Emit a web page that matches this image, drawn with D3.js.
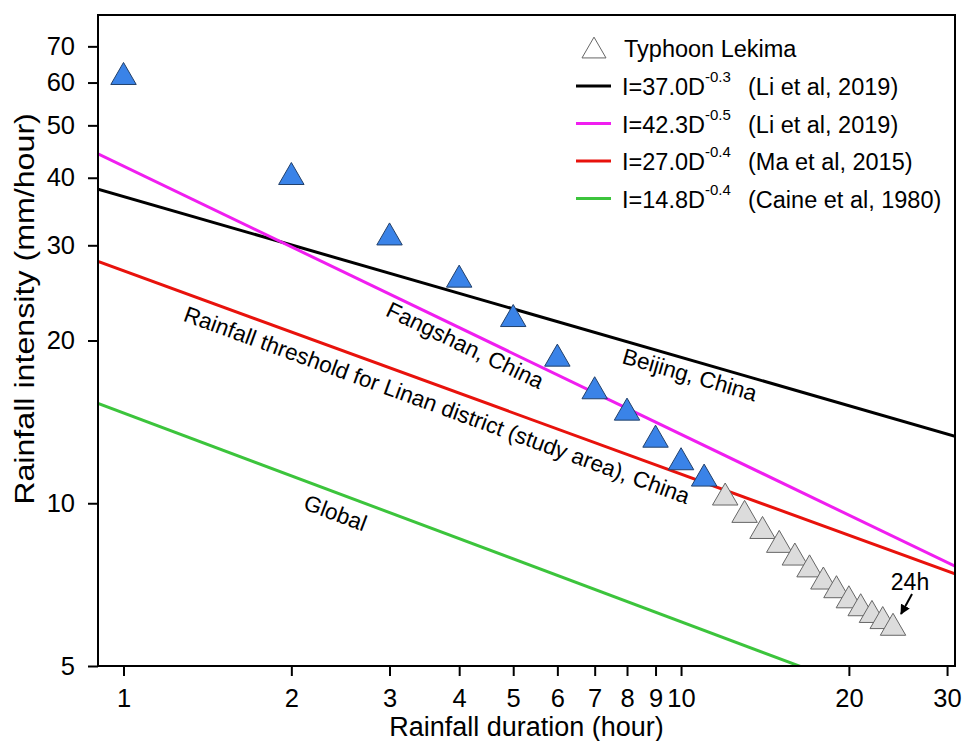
<!DOCTYPE html>
<html lang="en-US">
<head>
    <meta charset="utf-8">
    <title>Rainfall intensity-duration thresholds</title>
    <script src="https://d3js.org/d3.v7.min.js"></script>
    <style>
        html,
        body {
            margin: 0;
            padding: 0;
            background: #fff;
        }

        svg text {
            font-family: "Liberation Sans", Arial, sans-serif;
            fill: #000;
        }
    </style>
</head>
<body>
    <div id="chart"></div>

    <script>
        // hourly intensities recorded during Typhoon Lekima (mm/hour)
        var durations = [1, 2, 3, 4, 5, 6, 7, 8, 9, 10, 11, 12, 13, 14, 15, 16, 17, 18, 19, 20, 21, 22, 23, 24];
        var intensities = [61.4, 40.1, 31.0, 25.9, 21.9, 18.5, 16.1, 14.7, 13.1, 11.9, 11.1,
            10.24, 9.51, 8.88, 8.37, 7.93, 7.54, 7.16, 6.90, 6.61, 6.39, 6.21, 6.05, 5.88];
        // first hours drawn in blue, the rest in grey
        var highlightHours = 11;

        // threshold lines, read as two end points each
        var lineNames = ["Beijing", "Fangshan", "Linan", "Global"];
        var lineCoef = ["37.0", "42.3", "27.0", "14.8"];
        var lineExp = ["-0.3", "-0.5", "-0.4", "-0.4"];
        var lineSource = ["(Li et al, 2019)", "(Li et al, 2019)", "(Ma et al, 2015)", "(Caine et al, 1980)"];
        var lineColors = ["#000000", "#f01ef0", "#e8120c", "#3cc43c"];
        var lineStart = [[0.9, 38.1], [0.9, 44.3], [0.9, 28.0], [0.9, 15.3]];
        var lineEnd = [[31, 13.3], [31, 7.65], [31, 7.4], [31, 3.9]];

        // labels written along the lines: line index, duration, intensity
        var labelTexts = ["Beijing, China", "Fangshan, China",
            "Rainfall threshold for Linan district (study area), China", "Global"];
        var labelLine = [0, 1, 2, 3];
        var labelAt = [[10.37, 17.3], [4.10, 19.6], [3.65, 15.2], [2.40, 9.6]];

        var xTicks = [1, 2, 3, 4, 5, 6, 7, 8, 9, 10, 20, 30];
        var yTicks = [5, 10, 20, 30, 40, 50, 60, 70];

        var width = 963,
            height = 741;
        var plotLeft = 98,
            plotRight = 955,
            plotTop = 15,
            plotBottom = 666;

        var svg = d3.select("#chart").append("svg")
            .attr("width", width)
            .attr("height", height);

        var x = d3.scaleLog().domain([0.9, 31]).range([plotLeft, plotRight]);
        var y = d3.scaleLog().domain([5, 80]).range([plotBottom, plotTop]);

        svg.append("clipPath")
            .attr("id", "plotclip")
            .append("rect")
            .attr("x", plotLeft)
            .attr("y", plotTop)
            .attr("width", plotRight - plotLeft)
            .attr("height", plotBottom - plotTop);

        //threshold lines
        var lines = svg.append("g").attr("clip-path", "url(#plotclip)");
        lineNames.forEach(function(n, i) {
            lines.append("line")
                .attr("x1", x(lineStart[i][0]))
                .attr("y1", y(lineStart[i][1]))
                .attr("x2", x(lineEnd[i][0]))
                .attr("y2", y(lineEnd[i][1]))
                .attr("stroke", lineColors[i])
                .attr("stroke-width", 3);
        });

        //text along the lines, rotated to the slope of its line
        labelTexts.forEach(function(t, i) {
            var k = labelLine[i];
            var dx = x(lineEnd[k][0]) - x(lineStart[k][0]);
            var dy = y(lineEnd[k][1]) - y(lineStart[k][1]);
            var angle = Math.atan2(dy, dx) * 180 / Math.PI;
            var px = x(labelAt[i][0]),
                py = y(labelAt[i][1]);
            svg.append("text")
                .attr("transform", "translate(" + px + "," + py + ") rotate(" + angle + ")")
                .attr("text-anchor", "middle")
                .attr("dy", "0.35em")
                .style("font-size", "22.5px")
                .text(t);
        });

        //typhoon points
        var tri = d3.symbol().type(d3.symbolTriangle).size(280);
        svg.append("g")
            .selectAll("path")
            .data(durations)
            .enter().append("path")
            .attr("d", tri)
            .attr("transform", function(d, i) {
                return "translate(" + x(d) + "," + y(intensities[i]) + ")";
            })
            .attr("fill", function(d, i) {
                return i < highlightHours ? "#3a83e8" : "#dcdcdc";
            })
            .attr("stroke", function(d, i) {
                return i < highlightHours ? "#22406a" : "#666666";
            })
            .attr("stroke-width", 1);

        // 24h arrow pointing to the last point
        var last = durations.length - 1;
        var ax = x(durations[last]) + 8,
            ay = y(intensities[last]) - 14;
        svg.append("defs").append("marker")
            .attr("id", "arrowhead")
            .attr("viewBox", "0 0 10 10")
            .attr("refX", 9)
            .attr("refY", 5)
            .attr("markerWidth", 5)
            .attr("markerHeight", 5)
            .attr("orient", "auto")
            .append("path")
            .attr("d", "M0,0L10,5L0,10z")
            .attr("fill", "#000");
        svg.append("line")
            .attr("x1", ax + 11)
            .attr("y1", ay - 20)
            .attr("x2", ax)
            .attr("y2", ay)
            .attr("stroke", "#000")
            .attr("stroke-width", 2)
            .attr("marker-end", "url(#arrowhead)");
        svg.append("text")
            .attr("x", ax + 9)
            .attr("y", ay - 24)
            .attr("text-anchor", "middle")
            .style("font-size", "23px")
            .text("24h");

        //axes
        var xAxis = d3.axisBottom(x)
            .tickValues(xTicks)
            .tickFormat(d3.format("d"))
            .tickSize(10)
            .tickPadding(13);
        var yAxis = d3.axisLeft(y)
            .tickValues(yTicks)
            .tickFormat(d3.format("d"))
            .tickSize(10)
            .tickPadding(13);

        var gx = svg.append("g")
            .attr("transform", "translate(0," + plotBottom + ")")
            .call(xAxis);
        var gy = svg.append("g")
            .attr("transform", "translate(" + plotLeft + ",0)")
            .call(yAxis);
        [gx, gy].forEach(function(g) {
            g.select(".domain").remove();
            g.selectAll("line").attr("stroke", "#000").attr("stroke-width", 2);
            g.selectAll("text")
                .style("font-family", "'Liberation Sans', Arial, sans-serif")
                .style("font-size", "25.5px")
                .attr("fill", "#000");
        });

        svg.append("rect")
            .attr("x", plotLeft)
            .attr("y", plotTop)
            .attr("width", plotRight - plotLeft)
            .attr("height", plotBottom - plotTop)
            .attr("fill", "none")
            .attr("stroke", "#000")
            .attr("stroke-width", 2);

        svg.append("text")
            .attr("x", (plotLeft + plotRight) / 2)
            .attr("y", 736)
            .attr("text-anchor", "middle")
            .style("font-size", "27px")
            .text("Rainfall duration (hour)");

        // the y title is taller than it is thick in the original
        svg.append("text")
            .attr("transform", "translate(34,309) rotate(-90) scale(1.15,1)")
            .attr("text-anchor", "middle")
            .style("font-size", "28px")
            .text("Rainfall intensity (mm/hour)");

        //legend
        var legend = svg.append("g");
        legend.append("path")
            .attr("d", d3.symbol().type(d3.symbolTriangle).size(250))
            .attr("transform", "translate(594,51)")
            .attr("fill", "#fff")
            .attr("stroke", "#666")
            .attr("stroke-width", 1);
        legend.append("text")
            .attr("x", 624)
            .attr("y", 57)
            .style("font-size", "23.5px")
            .text("Typhoon Lekima");

        lineNames.forEach(function(n, i) {
            var ly = 86 + i * 37.5;
            legend.append("line")
                .attr("x1", 576)
                .attr("x2", 611)
                .attr("y1", ly)
                .attr("y2", ly)
                .attr("stroke", lineColors[i])
                .attr("stroke-width", 3);
            var t = legend.append("text")
                .attr("x", 622)
                .attr("y", ly + 9)
                .style("font-size", "23.5px");
            t.append("tspan").text("I=" + lineCoef[i] + "D");
            t.append("tspan")
                .attr("dy", -13)
                .style("font-size", "15px")
                .text(lineExp[i]);
            legend.append("text")
                .attr("x", 748)
                .attr("y", ly + 9)
                .style("font-size", "23.5px")
                .text(lineSource[i]);
        });
    </script>
</body>
</html>
